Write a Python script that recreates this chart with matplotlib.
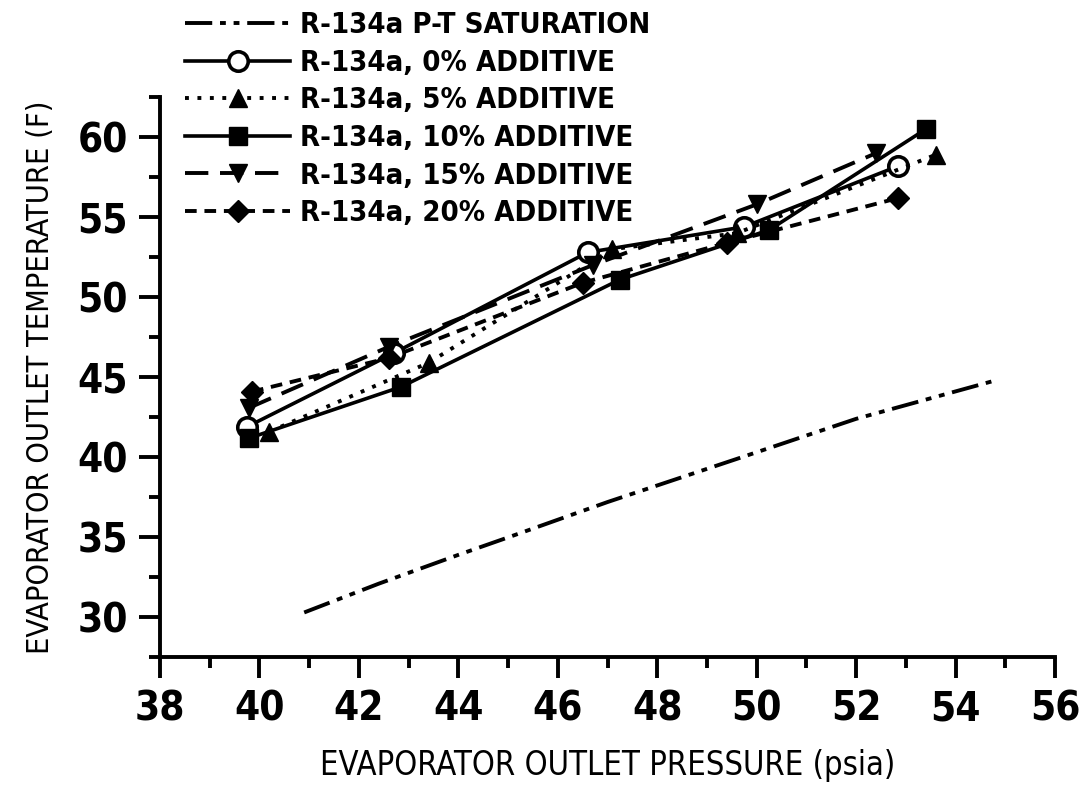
import matplotlib
matplotlib.use("Agg")
import matplotlib.pyplot as plt
from matplotlib.ticker import MultipleLocator

plt.rcParams["font.family"] = ["DejaVu Sans"]
plt.rcParams["font.stretch"] = "condensed"

# saturation curve
sat_p = [40.9, 42.4, 44.0, 45.1, 47.0, 49.7, 52.0, 54.8]
sat_t = [30.3, 32.1, 33.9, 35.1, 37.2, 40.0, 42.4, 44.8]

# test data (pressure psia, temperature F)
p0 = [39.75, 42.7, 46.6, 49.75, 52.85]
t0 = [41.9, 46.5, 52.8, 54.4, 58.2]
p5 = [40.2, 43.4, 47.1, 49.6, 53.6]
t5 = [41.6, 45.9, 53.0, 54.0, 58.9]
p10 = [39.8, 42.85, 47.25, 50.25, 53.4]
t10 = [41.2, 44.4, 51.1, 54.2, 60.5]
p15 = [39.8, 42.6, 46.7, 50.0, 52.4]
t15 = [43.1, 46.9, 52.0, 55.8, 59.0]
p20 = [39.85, 42.6, 46.5, 49.4, 52.85]
t20 = [44.1, 46.2, 50.9, 53.4, 56.2]

labels = ["R-134a P-T SATURATION", "R-134a, 0% ADDITIVE", "R-134a, 5% ADDITIVE",
          "R-134a, 10% ADDITIVE", "R-134a, 15% ADDITIVE", "R-134a, 20% ADDITIVE"]

fig = plt.figure(figsize=(10.81, 7.9), dpi=100)
ax = fig.add_axes([0.148, 0.168, 0.828, 0.709])

k = "black"
ax.plot(sat_p, sat_t, color=k, lw=2.8, dashes=(7, 2, 1.5, 2, 1.5, 2), label=labels[0])
ax.plot(p0, t0, color=k, lw=2.6, marker="o", ms=14, mfc="white", mew=2.6, label=labels[1])
ax.plot(p5, t5, color=k, lw=2.8, ls=(0, (1, 2.2)), marker="^", ms=13, label=labels[2])
ax.plot(p10, t10, color=k, lw=2.6, marker="s", ms=13, label=labels[3])
ax.plot(p15, t15, color=k, lw=2.8, dashes=(6, 3), marker="v", ms=13, label=labels[4])
ax.plot(p20, t20, color=k, lw=2.8, dashes=(3, 2), marker="D", ms=11, label=labels[5])

ax.set_xlim(38, 56)
ax.set_ylim(27.5, 62.5)
ax.xaxis.set_major_locator(MultipleLocator(2))
ax.xaxis.set_minor_locator(MultipleLocator(1))
ax.yaxis.set_minor_locator(MultipleLocator(2.5))
ax.set_yticks([30, 35, 40, 45, 50, 55, 60])
for s in ["top", "right"]:
    ax.spines[s].set_visible(False)
for s in ["left", "bottom"]:
    ax.spines[s].set_linewidth(2.8)
ax.tick_params(which="major", length=15, width=2.8, labelsize=29, pad=8)
ax.tick_params(which="minor", length=8, width=2.8)
for lab in ax.get_xticklabels() + ax.get_yticklabels():
    lab.set_fontweight("bold")

ax.set_xlabel("EVAPORATOR OUTLET PRESSURE (psia)", fontsize=23.5, labelpad=14)
ax.set_ylabel("EVAPORATOR OUTLET TEMPERATURE (F)", fontsize=22, labelpad=16)

fig.legend(loc="upper left", bbox_to_anchor=(0.155, 1.008), frameon=False,
           prop={"size": 21, "weight": "bold", "stretch": "condensed"},
           handlelength=3.6, handletextpad=0.35, labelspacing=0.33,
           borderaxespad=0.2)

fig.savefig("out.png", dpi=100)
